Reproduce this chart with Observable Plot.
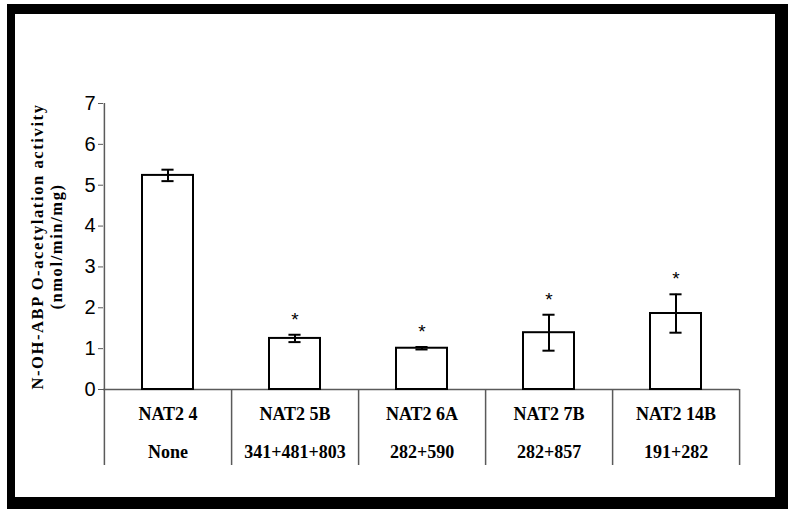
<!DOCTYPE html>
<html>
<head>
<meta charset="utf-8">
<script src="https://cdn.jsdelivr.net/npm/d3@7"></script>
<script src="https://cdn.jsdelivr.net/npm/@observablehq/plot@0.6"></script>
<style>
  html, body { margin: 0; padding: 0; background: #fff; }
  #page { position: relative; width: 794px; height: 515px; overflow: hidden; }
  #border { position: absolute; left: 7px; top: 4px; width: 781px; height: 505px; box-sizing: border-box;
            border-style: solid; border-color: #000; border-width: 10px 13px 12px 8px; }
  #chart { position: absolute; left: 0; top: 0; }
</style>
</head>
<body>
<div id="page"><div id="border"></div><div id="chart"></div></div>
<script>
// Data
const alleles = ["NAT2 4", "NAT2 5B", "NAT2 6A", "NAT2 7B", "NAT2 14B"];
const snps = ["None", "341+481+803", "282+590", "282+857", "191+282"];
const activity = [5.24, 1.25, 1.01, 1.39, 1.86];
const errors = [0.14, 0.09, 0.03, 0.44, 0.47];
const significant = [false, true, true, true, true];
const yTicks = [0, 1, 2, 3, 4, 5, 6, 7];
const yLabel = "N-OH-ABP O-acetylation activity\n(nmol/min/mg)";

const rows = alleles.map((a, i) => ({
  allele: a, snp: snps[i], value: activity[i], err: errors[i], sig: significant[i]
}));

const W = 794, H = 515, ML = 103, MR = 55, MT = 103, MB = 126;
const step = (W - ML - MR) / alleles.length;
const bandW = step * 0.4;
const plotH = H - MT - MB;
const serif = "'Liberation Serif', 'Times New Roman', serif";
const sans = "'Liberation Sans', Arial, sans-serif";
const axisColor = "#5a5a5a";

const chart = Plot.plot({
  width: W, height: H,
  marginLeft: ML, marginRight: MR, marginTop: MT, marginBottom: MB,
  style: { background: "transparent", overflow: "visible" },
  x: { domain: alleles, paddingInner: 0.6, paddingOuter: 0.3, axis: null },
  y: { domain: [0, 7], axis: null },
  marks: [
    // x baseline
    Plot.ruleY([0], { stroke: axisColor, strokeWidth: 1.5 }),
    // y axis line + first divider
    Plot.ruleX([alleles[0]], { x: d => d, dx: -step / 2, stroke: axisColor, strokeWidth: 1.5, insetBottom: -76 }),
    // table dividers
    Plot.ruleX(alleles, { x: d => d, dx: step / 2, stroke: axisColor, strokeWidth: 1.5, insetTop: plotH, insetBottom: -76 }),
    // y ticks and labels
    Plot.axisY(yTicks, { tickSize: 5, tickPadding: 3, fontSize: 20, fontFamily: sans, stroke: axisColor, fill: "#000", tickFormat: d => String(d), anchor: "left", label: null }),
    // bars
    Plot.barY(rows, { x: "allele", y: "value", fill: "#fff", stroke: "#000", strokeWidth: 2 }),
    // error bars
    Plot.ruleX(rows, { x: "allele", y1: d => d.value - d.err, y2: d => d.value + d.err, stroke: "#000", strokeWidth: 2 }),
    Plot.tickY(rows, { x: "allele", y: d => d.value + d.err, stroke: "#000", strokeWidth: 2, insetLeft: (bandW - 12) / 2, insetRight: (bandW - 12) / 2 }),
    Plot.tickY(rows, { x: "allele", y: d => d.value - d.err, stroke: "#000", strokeWidth: 2, insetLeft: (bandW - 12) / 2, insetRight: (bandW - 12) / 2 }),
    // significance asterisks
    Plot.text(rows.filter(d => d.sig), { x: "allele", y: d => d.value + d.err, text: () => "*", dy: -15, fontSize: 19, fontFamily: sans, fill: "#000", lineAnchor: "middle" }),
    // table row labels
    Plot.text(rows, { x: "allele", text: "allele", frameAnchor: "bottom", dy: 24.5, lineAnchor: "middle", fontSize: 18, fontWeight: "bold", fontFamily: serif, fill: "#000" }),
    Plot.text(rows, { x: "allele", text: "snp", frameAnchor: "bottom", dy: 63, lineAnchor: "middle", fontSize: 18, fontWeight: "bold", fontFamily: serif, fill: "#000" }),
    // y axis title
    Plot.text([yLabel], { text: d => d, frameAnchor: "left", dx: -57, rotate: -90, textAnchor: "middle", lineAnchor: "middle", lineHeight: 1.15, fontSize: 16.5, fontWeight: "bold", fontFamily: serif, fill: "#000" })
  ]
});
// letter-spaced axis title, as in the reference rendering
d3.select(chart).selectAll("text")
  .filter(function () { return this.textContent.startsWith("N-OH-ABP"); })
  .style("letter-spacing", "1.6px");
document.getElementById("chart").appendChild(chart);
</script>
</body>
</html>
